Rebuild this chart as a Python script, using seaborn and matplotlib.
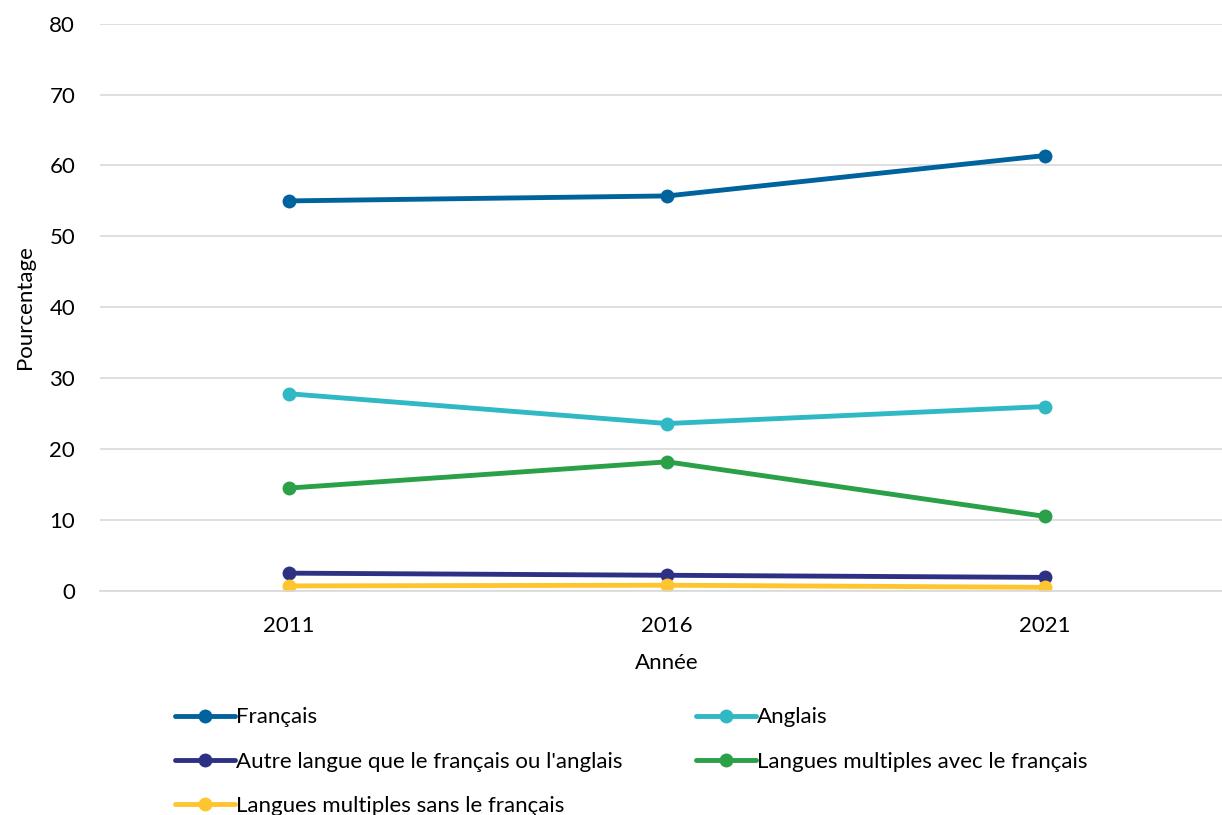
import pandas as pd
import matplotlib.pyplot as plt
import seaborn as sns

# Data
years = ['2011', '2016', '2021']
francais = [55.0, 55.7, 61.4]
anglais = [27.8, 23.6, 26.0]
autre = [2.5, 2.2, 1.9]
multi_avec = [14.5, 18.2, 10.5]
multi_sans = [0.7, 0.8, 0.5]

series = {
    "Français": francais,
    "Anglais": anglais,
    "Autre langue que le français ou l'anglais": autre,
    "Langues multiples avec le français": multi_avec,
    "Langues multiples sans le français": multi_sans,
}
colors = ['#00639E', '#30B8C4', '#2E3183', '#2AA048', '#FFC52F']

rows = []
for name, vals in series.items():
    for yr, v in zip(years, vals):
        rows.append({'Année': yr, 'Pourcentage': v, 'Langue': name})
df = pd.DataFrame(rows)

sns.set_style('white')
plt.rcParams['font.family'] = ['Lato', 'DejaVu Sans']
plt.rcParams['text.color'] = 'black'
plt.rcParams['axes.labelcolor'] = 'black'

fig = plt.figure(figsize=(12.22, 8.15), dpi=100)
ax = fig.add_axes([0.082, 0.275, 0.928, 0.696])

sns.lineplot(data=df, x='Année', y='Pourcentage', hue='Langue',
             palette=colors, marker='o', markersize=10, markeredgewidth=0,
             linewidth=3.5, sort=False, ax=ax)

ax.set_xlim(-0.5, 2.5)
ax.set_ylim(0, 80)
ax.set_yticks(range(0, 81, 10))
ax.yaxis.grid(True, color='#D9D9D9', linewidth=1.2)
ax.xaxis.grid(False)
for s in ['top', 'right', 'left']:
    ax.spines[s].set_visible(False)
ax.spines['bottom'].set_color('#D9D9D9')
ax.spines['bottom'].set_linewidth(1.2)
ax.tick_params(axis='both', labelsize=16, length=0, colors='black')
ax.tick_params(axis='x', pad=18)
ax.tick_params(axis='y', pad=18)
ax.set_xlabel('Année', fontsize=16, labelpad=12)
ax.set_ylabel('Pourcentage', fontsize=16, labelpad=10)

handles, labels = ax.get_legend_handles_labels()
ax.get_legend().remove()
order = [0, 2, 4, 1, 3]
fig.legend([handles[i] for i in order], [labels[i] for i in order],
           ncol=2, loc='upper left', bbox_to_anchor=(0.136, 0.143),
           frameon=False, fontsize=16, handlelength=2.7, handletextpad=0.05,
           columnspacing=3.3, labelspacing=1.1, borderaxespad=0)

fig.savefig('out.png', dpi=100)
